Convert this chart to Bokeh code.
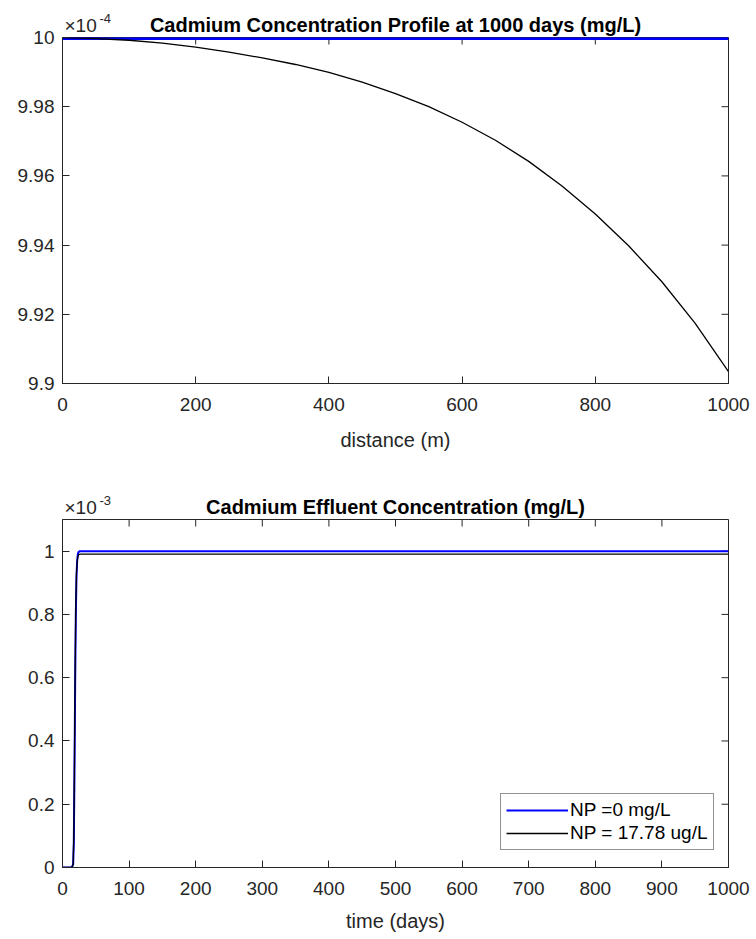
import math
from bokeh.plotting import figure
from bokeh.models import Range1d, FixedTicker, Label, Legend, LegendItem
from bokeh.layouts import column
from bokeh.embed import file_html
from bokeh.resources import INLINE

FONT = "Liberation Sans"
AX = "#262626"

# ---------------- data ----------------
# Top: concentration profile at 1000 days (values in units of 1e-4 mg/L)
distance_m = [0, 50, 100, 150, 200, 250, 300, 350, 400, 450, 500,
              550, 600, 650, 700, 750, 800, 850, 900, 950, 1000]
profile_np0 = [10.0] * 21
profile_np17 = [10.0, 9.9997, 9.9992, 9.9984, 9.9972, 9.9958, 9.9941, 9.9922,
                9.9899, 9.9871, 9.9838, 9.9800, 9.9755, 9.9703, 9.9642,
                9.9571, 9.9490, 9.9398, 9.9294, 9.9174, 9.9034]
top_xticks = [0, 200, 400, 600, 800, 1000]
top_xlabels = ["0", "200", "400", "600", "800", "1000"]
top_yticks = [9.9, 9.92, 9.94, 9.96, 9.98, 10.0]
top_ylabels = ["9.9", "9.92", "9.94", "9.96", "9.98", "10"]

# Bottom: effluent concentration vs time (values in units of 1e-3 mg/L)
time_days = [0, 5, 10, 14, 16, 17, 18, 19, 20, 21, 22, 23, 24, 26, 30, 50, 100, 1000]
effluent_np0 = [0, 0, 0, 0, 0.01, 0.08, 0.30, 0.58, 0.80, 0.92, 0.97, 0.99,
                0.997, 1.0, 1.0, 1.0, 1.0, 1.0]
effluent_np17 = [0, 0, 0, 0, 0.01, 0.10, 0.35, 0.63, 0.83, 0.93, 0.965, 0.982,
                 0.988, 0.9903, 0.9903, 0.9903, 0.9903, 0.9903]
bot_xticks = [0, 100, 200, 300, 400, 500, 600, 700, 800, 900, 1000]
bot_xlabels = [str(v) for v in bot_xticks]
bot_yticks = [0, 0.2, 0.4, 0.6, 0.8, 1.0]
bot_ylabels = ["0", "0.2", "0.4", "0.6", "0.8", "1"]

series_labels = ["NP =0 mg/L", "NP = 17.78 ug/L"]
titles = ["Cadmium Concentration Profile at 1000 days (mg/L)",
          "Cadmium Effluent Concentration (mg/L)"]
xlabels = ["distance (m)", "time (days)"]
exponents = ["-4", "-3"]

TOP_SPACE = 80  # reserved space above each frame for the title row


def make_fig(height, border_top, border_bottom, xr, yr):
    shift = TOP_SPACE - border_top
    p = figure(width=756, height=height + shift, output_backend="svg",
               toolbar_location=None,
               x_range=Range1d(*xr), y_range=Range1d(*yr),
               min_border_left=62, min_border_right=28,
               min_border_top=TOP_SPACE, min_border_bottom=border_bottom,
               margin=(-shift, 0, 0, 0))
    p.border_fill_color = None
    p.outline_line_color = AX
    p.outline_line_width = 1
    p.outline_line_alpha = 1
    return p


def style(p, xt, xl, yt, yl, xlabel, label_standoff):
    p.xgrid.visible = False
    p.ygrid.visible = False
    p.xaxis.ticker = FixedTicker(ticks=xt)
    p.yaxis.ticker = FixedTicker(ticks=yt)
    p.xaxis.major_label_overrides = {t: l for t, l in zip(xt, xl)}
    p.yaxis.major_label_overrides = {t: l for t, l in zip(yt, yl)}
    p.xaxis.axis_label = xlabel
    for ax in (p.xaxis[0], p.yaxis[0]):
        ax.axis_line_color = AX
        ax.axis_line_width = 1
        ax.major_tick_line_color = AX
        ax.major_tick_in = 7
        ax.major_tick_out = 0
        ax.minor_tick_line_color = None
        ax.major_label_text_font = FONT
        ax.major_label_text_font_size = "19px"
        ax.major_label_text_color = AX
        ax.axis_label_text_font = FONT
        ax.axis_label_text_font_size = "20px"
        ax.axis_label_text_font_style = "normal"
        ax.axis_label_text_color = AX
    p.xaxis.major_label_standoff = 14
    p.xaxis.axis_label_standoff = label_standoff
    p.yaxis.major_label_standoff = 8
    # mirrored (inward) ticks on the top and right edges of the box
    xr, yr = p.x_range, p.y_range
    p.ray(x=xt, y=[yr.end] * len(xt), length=7, length_units="screen",
          angle=-math.pi / 2, line_color=AX, line_width=1)
    p.ray(x=[xr.end] * len(yt), y=yt, length=7, length_units="screen",
          angle=math.pi, line_color=AX, line_width=1)


def header(p, title, expo):
    xr, yr = p.x_range, p.y_range
    xmid = (xr.start + xr.end) / 2
    p.add_layout(Label(x=xmid, y=yr.end, text=title, y_offset=13,
                       text_align="center", text_baseline="alphabetic",
                       text_font=FONT, text_font_size="20px", text_font_style="bold",
                       text_color="#000000"), "above")
    p.add_layout(Label(x=xr.start, y=yr.end, text="\u00d710", x_offset=2, y_offset=12,
                       text_align="left", text_baseline="alphabetic",
                       text_font=FONT, text_font_size="19px", text_color=AX), "above")
    p.add_layout(Label(x=xr.start, y=yr.end, text=expo, x_offset=37, y_offset=19,
                       text_align="left", text_baseline="alphabetic",
                       text_font=FONT, text_font_size="13px", text_color=AX), "above")


# ---------------- top figure ----------------
p1 = make_fig(470, 37, 87, (0, 1000), (9.9, 10.0))
style(p1, top_xticks, top_xlabels, top_yticks, top_ylabels, xlabels[0], 15)
p1.line(distance_m, profile_np0, line_color="#0000FF", line_width=5)
p1.line(distance_m, profile_np17, line_color="#000000", line_width=1.3)
header(p1, titles[0], exponents[0])

# ---------------- bottom figure ----------------
p2 = make_fig(469, 49, 72, (0, 1000), (0, 1.1))
style(p2, bot_xticks, bot_xlabels, bot_yticks, bot_ylabels, xlabels[1], 12)
r_np0 = p2.line(time_days, effluent_np0, line_color="#0000FF", line_width=2)
r_np17 = p2.line(time_days, effluent_np17, line_color="#000000", line_width=1.3)
header(p2, titles[1], exponents[1])

legend = Legend(items=[LegendItem(label=series_labels[0], renderers=[r_np0]),
                       LegendItem(label=series_labels[1], renderers=[r_np17])],
                location=(438, 17), orientation="vertical",
                glyph_width=62, glyph_height=22, label_height=22, label_standoff=2,
                padding=5, spacing=1, margin=0,
                label_text_font=FONT, label_text_font_size="19px",
                label_text_color="#000000",
                border_line_color=AX, border_line_width=1,
                background_fill_color="white", background_fill_alpha=1)
p2.add_layout(legend)

layout = column(p1, p2, spacing=0)
open("out.html", "w").write(file_html(layout, INLINE))
